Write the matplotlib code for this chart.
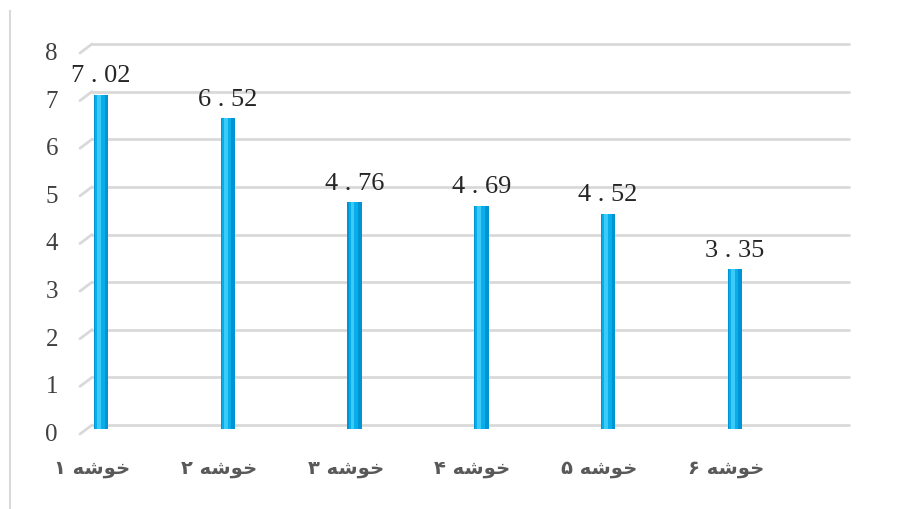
import numpy as np
import matplotlib
matplotlib.use("Agg")
import matplotlib.pyplot as plt
from matplotlib.transforms import ScaledTranslation, blended_transform_factory
from matplotlib.lines import Line2D

# data
categories = ["خوشه ۱", "خوشه ۲", "خوشه ۳", "خوشه ۴", "خوشه ۵", "خوشه ۶"]
values = [7.02, 6.52, 4.76, 4.69, 4.52, 3.35]
yticks = [0, 1, 2, 3, 4, 5, 6, 7, 8]

# matplotlib has no arabic shaping, so use presentation forms
# (isolated, final, initial, medial)
FORMS = {
    "خ": ("\uFEA5", "\uFEA6", "\uFEA7", "\uFEA8"),
    "و": ("\uFEED", "\uFEEE", None, None),
    "ش": ("\uFEB5", "\uFEB6", "\uFEB7", "\uFEB8"),
    "ه": ("\uFEE9", "\uFEEA", "\uFEEB", "\uFEEC"),
}


def shape(word):
    out = []
    for i, ch in enumerate(word):
        prev_j = i > 0 and FORMS[word[i - 1]][2] is not None
        next_j = i < len(word) - 1 and FORMS[ch][2] is not None
        iso, fin, ini, med = FORMS[ch]
        if prev_j and next_j:
            out.append(med)
        elif prev_j:
            out.append(fin)
        elif next_j:
            out.append(ini)
        else:
            out.append(iso)
    return "".join(out[::-1])  # visual order


def display(label):
    word, num = label.split()
    return num + " " + shape(word)


fig = plt.figure(figsize=(9.04, 5.10), dpi=100)
W, H = 904, 510
ax = fig.add_axes([80 / W, 80 / H, 769 / W, 381 / H])
ax.set_xlim(-0.166, 5.9)
ax.set_ylim(0, 8)
ax.axis("off")

grid_c = "#d9d9d9"
px = 0.72  # points per pixel


def shift(dx_px, dy_px):
    return ScaledTranslation(dx_px * px / 72, dy_px * px / 72, fig.dpi_scale_trans)


ytr = ax.get_yaxis_transform()
dx = 12 / 769
for t in yticks:
    ax.add_line(Line2D([dx, 1], [t, t], transform=ytr + shift(0, 4), color=grid_c,
                       lw=2, solid_capstyle="round", clip_on=False))
    p0 = (ytr + shift(0, -5)).transform((0, t))
    p1 = (ytr + shift(0, 4)).transform((dx, t))
    fig.add_artist(Line2D([p0[0] / W, p1[0] / W], [p0[1] / H, p1[1] / H],
                          color=grid_c, lw=2, solid_capstyle="round"))
    ax.text(-22 / 769, t, str(t), transform=ytr + shift(0, -5), ha="right", va="center",
            fontsize=18, family="Liberation Serif", color="#404040")

x = np.arange(len(values))
ax.bar(x, values, width=0.115, color="#0094d4", zorder=3)
ax.bar(x - 0.01, values, width=0.075, color="#08aeea", zorder=4)
ax.bar(x - 0.016, values, width=0.03, color="#3ccaf8", zorder=5)

for xi, v in zip(x, values):
    ax.annotate(f"{v:.2f}".replace(".", " . "), (xi, v), xytext=(0, 6),
                textcoords="offset points", ha="center", va="bottom",
                fontsize=19, family="Liberation Serif", color="#262626", zorder=6)

lab_tr = blended_transform_factory(ax.transData, ax.transAxes) + shift(-9, -39)
for xi, c in zip(x, categories):
    ax.text(xi, 0, display(c), transform=lab_tr, ha="center", va="center",
            fontsize=14, fontweight="bold", family="DejaVu Sans", color="#595959")

fig.add_artist(Line2D([10 / W, 10 / W], [0, 498 / H], color=grid_c, lw=1.5))

fig.savefig("out.png", dpi=100)
